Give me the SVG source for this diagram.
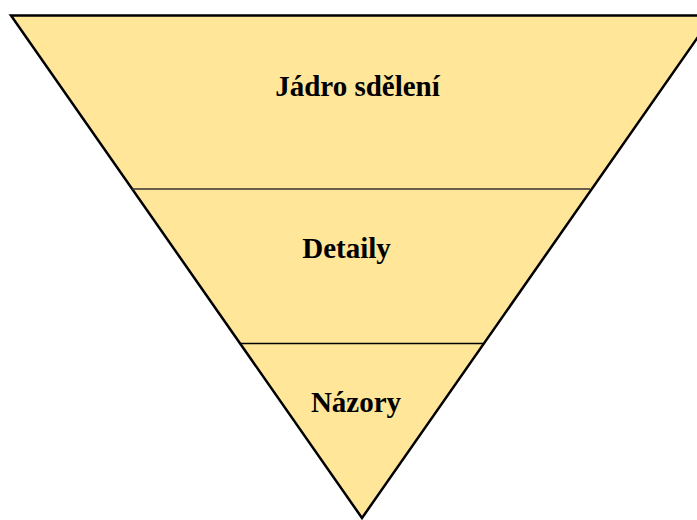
<svg xmlns="http://www.w3.org/2000/svg" width="697" height="520" viewBox="0 0 697 520">
<style>
.t{font-family:"Liberation Serif","Times New Roman",serif;font-weight:bold;font-size:29px;fill:#000;text-anchor:middle}
</style>
<rect width="697" height="520" fill="#fff"/>
<g id="pyramid">
<polygon points="11,15.5 713,15.5 362,518" fill="#FFE699" stroke="#000" stroke-width="2.5"/>
</g>
<g id="connectors">
<line x1="132" y1="189" x2="590" y2="189" stroke="#333" stroke-width="1.5"/>
<line x1="240" y1="343.5" x2="484" y2="343.5" stroke="#000" stroke-width="1.5"/>
</g>
<g id="jadro"><text class="t" x="357.5" y="96">Jádro sdělení</text></g>
<g id="detaily"><text class="t" x="346.5" y="258">Detaily</text></g>
<g id="nazory"><text class="t" x="356" y="412">Názory</text></g>
</svg>
